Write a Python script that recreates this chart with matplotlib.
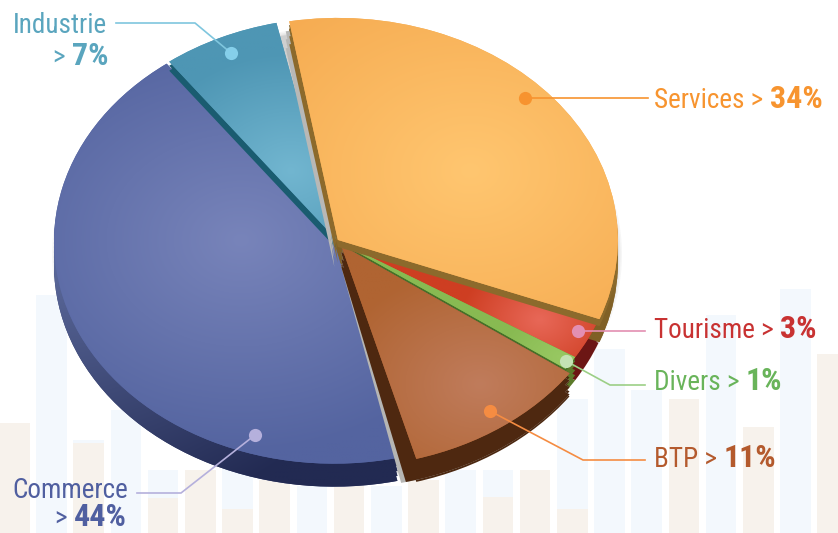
import numpy as np
import matplotlib
matplotlib.use("Agg")
import matplotlib.pyplot as plt
from matplotlib.patches import Ellipse

# ---- data ----
sectors = ["Services", "Tourisme", "Divers", "BTP", "Commerce", "Industrie"]
shares = [34, 3, 1, 11, 44, 7]
explode = [0.004, 0.0, 0.0, 0.025, 0.012, 0.004]
bg_blue = [0, 238, 93, 123, 63, 0, 130, 0, 47, 0, 47, 0, 63, 63, 0, 134, 184, 143, 0, 218, 0, 244, 0]
bg_beige = [110, 0, 90, 0, 35, 63, 24, 53, 0, 50, 0, 53, 0, 36, 63, 24, 0, 0, 134, 0, 106, 0, 179]

# ---- style ----
W, H = 838, 533
CX, CY, RX, RY = 337.0, 240.5, 280.0, 222.0
top_in = [(255, 198, 112), (232, 104, 88), (152, 200, 98), (192, 124, 92), (120, 132, 186), (114, 182, 208)]
top_out = [(246, 172, 82), (206, 62, 34), (136, 186, 82), (176, 100, 50), (84, 100, 160), (78, 150, 180)]
focus = [(470, 170), (540, 320), (560, 358), (480, 385), (240, 240), (290, 170)]
scale = [260, 80, 60, 150, 270, 150]
side = [(140, 106, 44), (108, 22, 20), (92, 122, 42), (76, 40, 16), (50, 60, 110), (28, 92, 112)]
FONT = "Roboto Condensed"

fig = plt.figure(figsize=(W / 100, H / 100), dpi=100, facecolor="white")

# background bars
bg = fig.add_axes([0, 0, 1, 1], zorder=0)
bg.set_xlim(0, W); bg.set_ylim(0, H); bg.axis("off")
idx = np.arange(len(bg_blue)) * 37.2 + 14.3
bg.bar(idx, bg_blue, width=30.5, color="#f3f8fd", linewidth=0)
bg.bar(idx, bg_beige, width=30.5, color="#f7f2ec", linewidth=0)

# pie axes: one data unit is RX px wide and RY px tall
ax = fig.add_axes([0, 0, 1, 1], zorder=1)
xlim = (-CX / RX, (W - CX) / RX)
ylim = (-(H - CY) / RY, CY / RY)
ax.patch.set_alpha(0)

# degrees taken off each wedge's angular ends (theta2 side, theta1 side)
trim_hi = [1.5, 0, 0, 0, 2.0, 0]
trim_lo = [0, 0, 0, 0.5, 0, 0.9]


def rgb(c):
    return tuple(v / 255 for v in c)


def layer(colors, z, dx=0.0, dy=0.0, widen=0.0):
    wedges, _ = ax.pie(shares, explode=explode, colors=colors, startangle=101.5, counterclock=False,
                       radius=1, center=(dx / RX, -dy / RY), wedgeprops={"zorder": z, "linewidth": 0})
    for w, a, b in zip(wedges, trim_hi, trim_lo):
        w.set_theta1(w.theta1 + b - widen)
        w.set_theta2(w.theta2 - a)
    return wedges


def one(i, c):
    return [rgb(c) if k == i else "none" for k in range(len(shares))]


def edge_strip(i, c, z, dx, dy, span=4.0):
    """only the narrow part of a slice next to its first edge"""
    w = layer(one(i, c), z, dx, dy)[i]
    w.set_theta1(w.theta2 - span)


def shade(wedge, inner, outer, f, s, z):
    px = np.linspace(0, W, 210)
    py = np.linspace(0, H, 134)
    X, Y = np.meshgrid(px, py)
    t = np.clip(np.hypot(X - f[0], (Y - f[1]) * RX / RY) / s, 0, 1)[..., None]
    img = np.array(inner)[None, None] / 255 * (1 - t) + np.array(outer)[None, None] / 255 * t
    im = ax.imshow(img, extent=(xlim[0], xlim[1], ylim[0], ylim[1]), origin="upper", aspect="auto",
                   interpolation="bilinear", zorder=z)
    im.set_clip_path(wedge)


def top(i, z):
    w = layer(one(i, top_out[i]), z)
    shade(w[i], top_in[i], top_out[i], focus[i], scale[i], z + 0.01)


# soft halo around the rim
for k, a in zip((5, 3.5, 2, 1), (0.05, 0.06, 0.08, 0.12)):
    ax.add_patch(Ellipse((0, -14 / RY), 2 + 2 * k / RX, 2 + 2 * k / RY, color="#555555", alpha=a, lw=0, zorder=1))

# extruded side
for d in (23, 18, 13, 8, 4):
    w = layer([rgb(c) for c in side], 2, 0, d)
    shade(w[4], (92, 106, 156), (34, 42, 82), (55, 262), 340, 2.1)
    shade(w[0], (150, 116, 50), (128, 96, 38), (620, 260), 60, 2.1)

# top faces and cut walls, back to front
top(4, 4)
layer(one(5, (26, 92, 112)), 4.2, 0, 9)
top(5, 4.4)
for d in (27, 18, 10):
    edge_strip(0, (184, 184, 182), 4.6, -3.5, d)
for d in (23, 15, 8):
    edge_strip(0, (140, 106, 44), 4.8, 0, d)
top(1, 5)
layer(one(2, (70, 112, 40)), 6, 0, 2.5)
top(2, 7)
for d in (0, 7, 14, 21):
    layer(one(3, (182, 182, 180)), 8, 0, d, widen=3.2)
    layer(one(3, (78, 40, 16)), 9, 0, d, widen=2.2)
top(3, 10)
layer(one(0, (140, 106, 44)), 11, 0, 7)
top(0, 12)

ax.set_aspect("auto")
ax.set_xlim(*xlim); ax.set_ylim(*ylim)
ax.axis("off")

# labels and leader lines, in pixel coordinates
an = fig.add_axes([0, 0, 1, 1], zorder=2)
an.set_xlim(0, W); an.set_ylim(H, 0); an.axis("off"); an.patch.set_alpha(0)

FS, FS_BOLD = 19.5, 23
renderer = fig.canvas.get_renderer()


def label(x, y, parts, ha="left"):
    """parts: (string, bold, colour) drawn one after another"""
    arts = [an.text(0, y, s, fontsize=FS_BOLD if b else FS, family=FONT, weight="bold" if b else "normal",
                    color=c, va="baseline") for s, b, c in parts]
    widths = [a.get_window_extent(renderer).width for a in arts]
    x0 = x - sum(widths) if ha == "right" else x
    for a, wd in zip(arts, widths):
        a.set_x(x0)
        x0 += wd


leaders = [
    ([525, 648], [98, 98], "#f7932f", "#f7932f"),
    ([578, 645], [331, 331], "#e38fb2", "#e38fb2"),
    ([566, 610, 645], [361, 385, 385], "#9ccf86", "#c4e2b4"),
    ([490, 583, 645], [411, 460, 460], "#f58c42", "#f58c42"),
    ([255, 181, 137], [435, 493, 493], "#b5b0dc", "#b5b0dc"),
    ([231, 195, 116], [53, 23, 23], "#7fc6de", "#85cfea"),
]
for xs, ys, lc, dc in leaders:
    an.plot(xs, ys, color=lc, lw=1.2, solid_joinstyle="miter")
    an.plot(xs[0], ys[0], "o", ms=9.5, color=dc, mew=0)

c_serv, c_tour, c_div, c_btp, c_com, c_ind = "#f7942f", "#c83232", "#69b45a", "#b45a2d", "#505fa0", "#5aa5be"
label(654, 108, [(sectors[0] + " > ", False, c_serv), (f"{shares[0]}%", True, c_serv)])
label(654, 338, [(sectors[1] + " > ", False, c_tour), (f"{shares[1]}%", True, c_tour)])
label(654, 390, [(sectors[2] + " > ", False, c_div), (f"{shares[2]}%", True, c_div)])
label(654, 467, [(sectors[3] + " > ", False, c_btp), (f"{shares[3]}%", True, c_btp)])
label(13, 33, [(sectors[5], False, c_ind)])
label(108, 65, [("> ", False, c_ind), (f"{shares[5]}%", True, c_ind)], ha="right")
label(12, 498, [(sectors[4], False, c_com)])
label(127, 526, [("> ", False, c_com), (f"{shares[4]}%", True, c_com)], ha="right")

fig.savefig("out.png", dpi=100, facecolor="white")
